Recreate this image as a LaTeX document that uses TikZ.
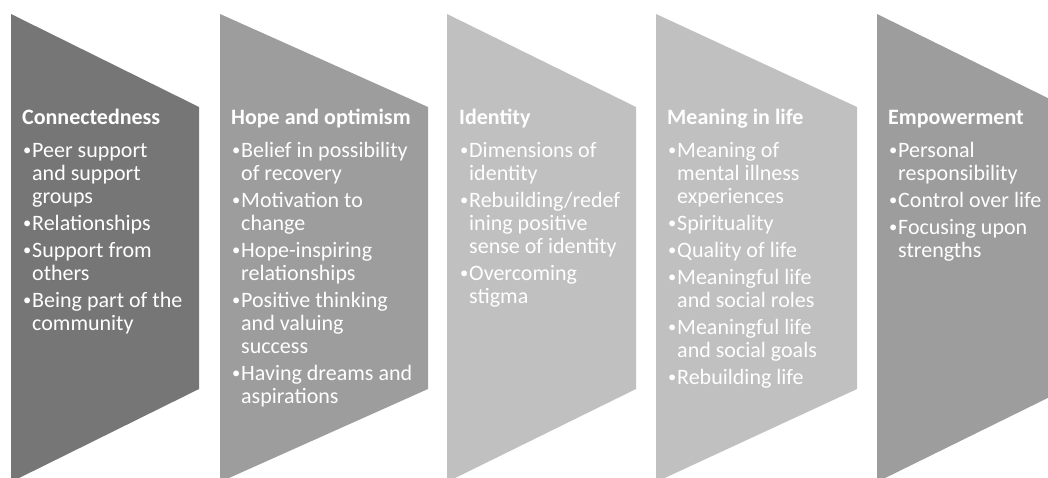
\documentclass[tikz,border=0pt]{standalone}
\usepackage{fontspec}
\setmainfont{Carlito}

\definecolor{shadeA}{HTML}{767676}
\definecolor{shadeB}{HTML}{9D9D9D}
\definecolor{shadeC}{HTML}{C0C0C0}

% a forced line break that stays inside the current paragraph
\newcommand\keepbreak{\hfil\break}
% a slightly reduced bullet dot
\newcommand\smallbullet{\raisebox{1.6pt}{\scalebox{0.75}{•}}}
% one bullet point with a hanging indent for its wrapped lines
\newcommand\bitem[1]{\par{\let\\\keepbreak\hangindent=10pt\hangafter=1
  \noindent\makebox[10pt][l]{\hspace{1pt}\smallbullet}#1\par}}
% a titled block of bullet points
\newcommand\themeblock[2]{\parbox[t]{240pt}{\fontsize{22}{23}\selectfont\raggedright
  \setlength\parskip{4pt}\noindent\textbf{#1}\par\vspace{6pt}#2}}

\begin{document}
\begin{tikzpicture}[x=1pt,y=-1pt,
  txt/.style={anchor=base west, inner sep=0pt, text=white}]
\useasboundingbox (0,0) rectangle (1048,477);
\clip (0,0) rectangle (1048,477);

% the five chevron panels
\fill[shadeA] (11,14)  -- (199,107)  -- (199,389)  -- (11,482)  -- cycle;
\fill[shadeB] (220,14) -- (428,107)  -- (428,389)  -- (220,482) -- cycle;
\fill[shadeC] (447,14) -- (636,107)  -- (636,389)  -- (447,482) -- cycle;
\fill[shadeC] (656,14) -- (857,107)  -- (857,389)  -- (656,482) -- cycle;
\fill[shadeB] (877,14) -- (1066,107) -- (1066,389) -- (877,482) -- cycle;

\node[txt] (conn) at (22,124) {\themeblock{Connectedness}{%
  \bitem{Peer support\\and support\\groups}%
  \bitem{Relationships}%
  \bitem{Support from\\others}%
  \bitem{Being part of the\\community}}};

\node[txt] (hope) at (231,124) {\themeblock{Hope and optimism}{%
  \bitem{Belief in possibility\\of recovery}%
  \bitem{Motivation to\\change}%
  \bitem{Hope-inspiring\\relationships}%
  \bitem{Positive thinking\\and valuing\\success}%
  \bitem{Having dreams and\\aspirations}}};

\node[txt] (ident) at (459,124) {\themeblock{Identity}{%
  \bitem{Dimensions of\\identity}%
  \bitem{Rebuilding/redef\\ining positive\\sense of identity}%
  \bitem{Overcoming\\stigma}}};

\node[txt] (mean) at (667,124) {\themeblock{Meaning in life}{%
  \bitem{Meaning of\\mental illness\\experiences}%
  \bitem{Spirituality}%
  \bitem{Quality of life}%
  \bitem{Meaningful life\\and social roles}%
  \bitem{Meaningful life\\and social goals}%
  \bitem{Rebuilding life}}};

\node[txt] (empow) at (888,124) {\themeblock{Empowerment}{%
  \bitem{Personal\\responsibility}%
  \bitem{Control over life}%
  \bitem{Focusing upon\\strengths}}};
\end{tikzpicture}
\end{document}
